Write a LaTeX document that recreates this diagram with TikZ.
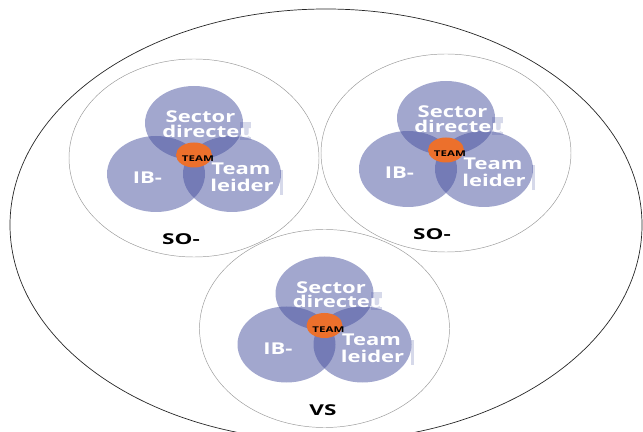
\documentclass[tikz,border=0pt]{standalone}
\usepackage{fontspec}
\setmainfont{Open Sans}
\definecolor{viola}{RGB}{70,80,158}
\definecolor{arancio}{RGB}{236,112,44}
\begin{document}
\begin{tikzpicture}[
    x=0.03cm, y=0.03cm,
    et/.style={font=\bfseries\fontsize{13.9}{12.5}\selectfont, text=white, inner sep=0pt, anchor=base, xscale=1.35},
    tit/.style={font=\bfseries\fontsize{12.8}{14}\selectfont, text=black, inner sep=0pt, anchor=base, xscale=1.5},
    tm/.style={font=\bfseries\fontsize{6.8}{8}\selectfont, text=black, inner sep=0pt, anchor=base, xscale=1.45},
    venn/.style={fill=viola, fill opacity=0.5},
    velo/.style={fill=viola, fill opacity=0.22},
    grp/.style={draw=black!40, line width=0.4pt},
  ]

  % ---- cornice --------------------------------------------------------------
  \clip (0,0) rectangle (643,-432);

  % ---- ellisse esterna ------------------------------------------------------
  \draw[black!85, line width=0.6pt] (326,-225) ellipse [x radius=316, y radius=216];

  % ---- i tre gruppi: SO- (sx), SO- (dx), VS (sotto) -------------------------
  \foreach \gx/\gy/\gt/\gd/\gn in {194/158/SO-/-13/a, 446/153/SO-/-14/b, 324.5/328.5/VS/-1.5/c} {
    \begin{scope}[shift={(\gx,-\gy)}]
      \draw[grp] (0,0) ellipse [x radius=125, y radius=99];
      % cerchi di Venn
      \fill[venn] (0,35)    ellipse [x radius=49, y radius=37];
      \fill[venn] (-38,-16) ellipse [x radius=49, y radius=38];
      \fill[venn] (38,-16)  ellipse [x radius=49, y radius=38];
      \fill[arancio] (0,3)  ellipse [x radius=18, y radius=12.5];
      % caselle di testo (appena visibili fuori dai cerchi)
      \fill[velo] (46,18)  rectangle (57,36);
      \fill[velo] (86,-37) rectangle (89,-12);
      % testi
      \node[et] (sec\gn) at (6.5,35.3) {Sector};
      \node[et, anchor=base west] (dir\gn) at (-32,20.7) {directeu};
      \node[et] (ib\gn)  at (-46.5,-26) {IB-};
      \node[et] (tea\gn) at (47,-17) {Team};
      \node[et] (lei\gn) at (48,-33.7) {leider};
      \node[tm] (tm\gn)  at (4,-3.7) {TEAM};
      \node[tit] (lab\gn) at (\gd,-86.5) {\gt};
    \end{scope}
  }

\end{tikzpicture}
\end{document}
